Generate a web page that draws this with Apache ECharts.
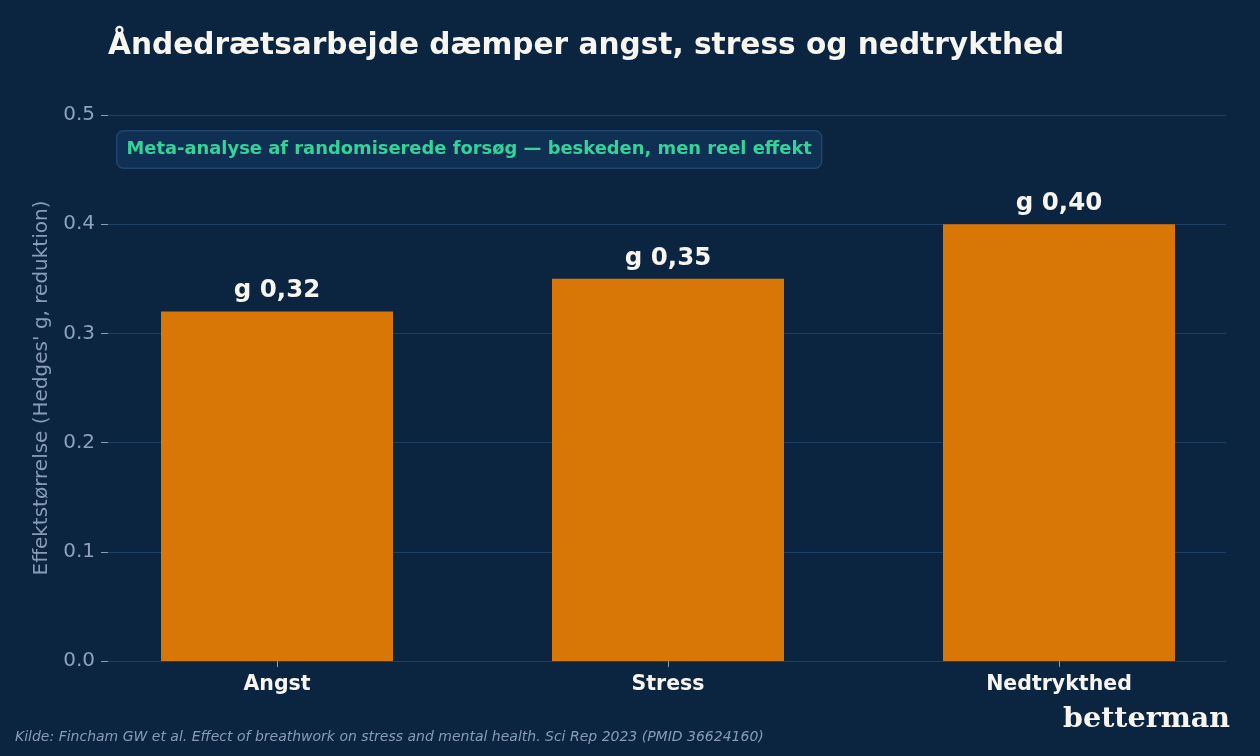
<!DOCTYPE html>
<html><head><meta charset="utf-8">
<script src="https://cdn.jsdelivr.net/npm/echarts@6/dist/echarts.min.js"></script>
<style>html,body{margin:0;padding:0;background:#0b2540;}#c{width:1260px;height:756px;}</style>
</head><body><div id="c"></div>
<script>
const categories = ["Angst", "Stress", "Nedtrykthed"];
const values = [0.32, 0.35, 0.40];
const valueLabels = ["g 0,32", "g 0,35", "g 0,40"];
const yTicks = [0, 0.1, 0.2, 0.3, 0.4, 0.5];

const chart = echarts.init(document.getElementById('c'));
const TOP = 115, BOTTOM = 756 - 661;
chart.setOption({
  backgroundColor: '#0b2540',
  animation: false,
  title: {
    text: 'Åndedrætsarbejde dæmper angst, stress og nedtrykthed',
    left: 103, top: 26,
    textStyle: { color: '#f7f5f0', fontFamily: 'DejaVu Sans', fontWeight: 'bold', fontSize: 29.6 }
  },
  grid: [
    { left: 108, right: 34, top: TOP, bottom: BOTTOM },
    { left: 81.5, width: 1173, top: TOP, bottom: BOTTOM }
  ],
  xAxis: [
    { gridIndex: 0, type: 'category', data: categories, show: false },
    { gridIndex: 1, type: 'category', data: categories,
      axisLine: { show: false },
      axisTick: { show: true, alignWithLabel: true, length: 6, lineStyle: { color: '#8a9bb3' } },
      axisLabel: { color: '#f7f5f0', fontFamily: 'DejaVu Sans', fontWeight: 'bold', fontSize: 20.5, margin: 13 } }
  ],
  yAxis: [
    { gridIndex: 0, type: 'value', min: 0, max: 0.5, interval: 0.1,
      name: "Effektstørrelse (Hedges' g, reduktion)", nameLocation: 'middle', nameGap: 56,
      nameTextStyle: { color: '#8a9bb3', fontFamily: 'DejaVu Sans', fontSize: 20 },
      axisLine: { show: false },
      axisTick: { show: true, length: 7, lineStyle: { color: '#8a9bb3' } },
      axisLabel: { color: '#8fa1b8', fontFamily: 'DejaVu Sans', fontSize: 20, margin: 13,
        formatter: v => v.toFixed(1) },
      splitLine: { show: true, lineStyle: { color: '#1f3f66', width: 1.2 } } },
    { gridIndex: 1, type: 'value', min: 0, max: 0.5, interval: 0.1, show: false, splitLine: { show: false } }
  ],
  series: [{
    type: 'bar', xAxisIndex: 1, yAxisIndex: 1,
    data: values, barWidth: 232,
    itemStyle: { color: '#d97706' },
    label: { show: true, position: 'top', distance: 8,
      formatter: p => valueLabels[p.dataIndex],
      color: '#f7f5f0', fontFamily: 'DejaVu Sans', fontWeight: 'bold', fontSize: 24.5 }
  }],
  graphic: [
    { type: 'text', left: 116, top: 130,
      style: { text: 'Meta-analyse af randomiserede forsøg — beskeden, men reel effekt',
        fill: '#34d399', font: 'bold 17.9px "DejaVu Sans"',
        backgroundColor: '#0f3052', borderColor: '#1f4670', borderWidth: 1.5, borderRadius: 6,
        padding: [9, 9, 9, 9] } },
    { type: 'text', left: 15, top: 730,
      style: { text: 'Kilde: Fincham GW et al. Effect of breathwork on stress and mental health. Sci Rep 2023 (PMID 36624160)',
        fill: '#8a9bb3', font: 'italic 14px "DejaVu Sans"' } },
    { type: 'text', right: 30, top: 705,
      style: { text: 'betterman', fill: '#f7f5f0', font: 'bold 28.5px "DejaVu Serif"' } }
  ]
});
</script></body></html>
